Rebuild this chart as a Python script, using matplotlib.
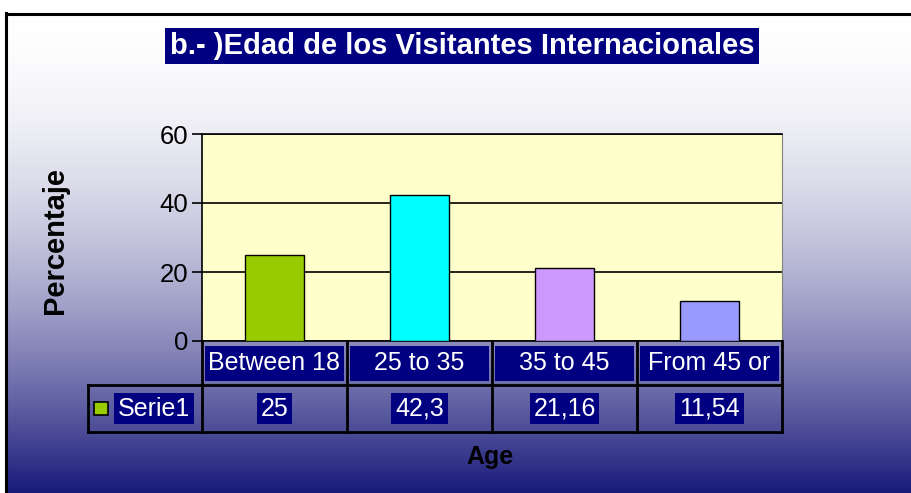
import numpy as np
import matplotlib.pyplot as plt
from matplotlib.patches import Rectangle

# Data
categories = ['Between 18', '25 to 35', '35 to 45', 'From 45 or']
values = [25, 42.3, 21.16, 11.54]
value_labels = ['25', '42,3', '21,16', '11,54']
bar_colors = ['#99cc00', '#00ffff', '#cc99ff', '#9999ff']
series_name = 'Serie1'

plt.rcParams['font.family'] = ['Liberation Sans', 'DejaVu Sans']

W, H = 912, 493
fig = plt.figure(figsize=(W / 100, H / 100), dpi=100)

# background with gradient and border (pixel coordinates)
bg = fig.add_axes([0, 0, 1, 1], zorder=0)
bg.set_xlim(0, W)
bg.set_ylim(H, 0)
bg.axis('off')
t = np.linspace(0, 1, 400) ** 1.8
top = np.array([1.0, 1.0, 1.0])
bottom = np.array([0.10, 0.10, 0.48])
grad = (top[None, :] * (1 - t[:, None]) + bottom[None, :] * t[:, None])[:, None, :]
bg.imshow(grad, extent=[6, W, H, 13], aspect='auto', interpolation='bilinear')
bg.plot([6, W], [13.5, 13.5], color='black', lw=2.2)
bg.plot([6.5, 6.5], [13, H], color='black', lw=2.2)

# main plot
ax = fig.add_axes([202 / W, 1 - 341 / H, 580 / W, 207 / H], zorder=2)
ax.set_facecolor('#ffffcc')
x = np.arange(len(categories))
ax.bar(x, values, width=0.41, color=bar_colors, edgecolor='black', linewidth=1, zorder=3)
ax.set_xlim(-0.5, len(categories) - 0.5)
ax.set_ylim(0, 60)
ax.set_yticks([0, 20, 40, 60])
ax.yaxis.grid(True, color='black', linewidth=1.2, zorder=1)
ax.set_axisbelow(True)
ax.set_xticks([])
ax.tick_params(axis='y', labelsize=18.5, length=7, width=1.2, direction='out', pad=3)
for s in ['left', 'top', 'bottom']:
    ax.spines[s].set_color('black')
    ax.spines[s].set_linewidth(1.2)
ax.spines['right'].set_color('#808080')

# data table under the axis
tr = ax.get_xaxis_transform()
r1 = 44 / 207
r2 = 91 / 207
left = -0.5 - 114 / 145
right = len(categories) - 0.5
kw = dict(color='black', lw=2, transform=tr, clip_on=False, zorder=5)
ax.plot([left, right], [-r1, -r1], **kw)
ax.plot([left, right], [-r2, -r2], **kw)
ax.plot([left, left], [-r1, -r2], **kw)
for i in range(len(categories) + 1):
    ax.plot([i - 0.5, i - 0.5], [0, -r2], **kw)

for i, (cat, lab) in enumerate(zip(categories, value_labels)):
    ax.add_patch(Rectangle((i - 0.476, -0.193), 0.952, 0.169, transform=tr,
                           facecolor='#000080', edgecolor='none', clip_on=False, zorder=4))
    ax.text(i, -0.108, cat, transform=tr, ha='center', va='center', fontsize=18,
            color='white', zorder=6)
    ax.text(i, -(r1 + r2) / 2, lab, transform=tr, ha='center', va='center', fontsize=18,
            color='white', zorder=6,
            bbox=dict(boxstyle='square,pad=0.15', facecolor='#000080', edgecolor='none'))

# legend key in the table
ax.add_patch(Rectangle((left + 6 / 145, -(r1 + r2) / 2 - 0.033), 14 / 145, 0.066,
                       transform=tr, facecolor=bar_colors[0], edgecolor='black',
                       lw=1.2, clip_on=False, zorder=6))
ax.text(left + 30 / 145, -(r1 + r2) / 2, series_name, transform=tr, ha='left',
        va='center', fontsize=18, color='white', zorder=6,
        bbox=dict(boxstyle='square,pad=0.15', facecolor='#000080', edgecolor='none'))

# titles
fig.text(462 / W, 1 - 46 / H, 'b.- )Edad de los Visitantes Internacionales',
         ha='center', va='center', fontsize=21, fontweight='bold', color='white', zorder=3,
         bbox=dict(boxstyle='square,pad=0.15', facecolor='#000080', edgecolor='none'))
fig.text(55 / W, 1 - 240 / H, 'Percentaje', rotation=90, ha='center', va='center',
         fontsize=21, fontweight='bold', color='black', zorder=3)
fig.text(490 / W, 1 - 457 / H, 'Age', ha='center', va='center',
         fontsize=18, fontweight='bold', color='black', zorder=3)

fig.savefig('out.png', dpi=100)
